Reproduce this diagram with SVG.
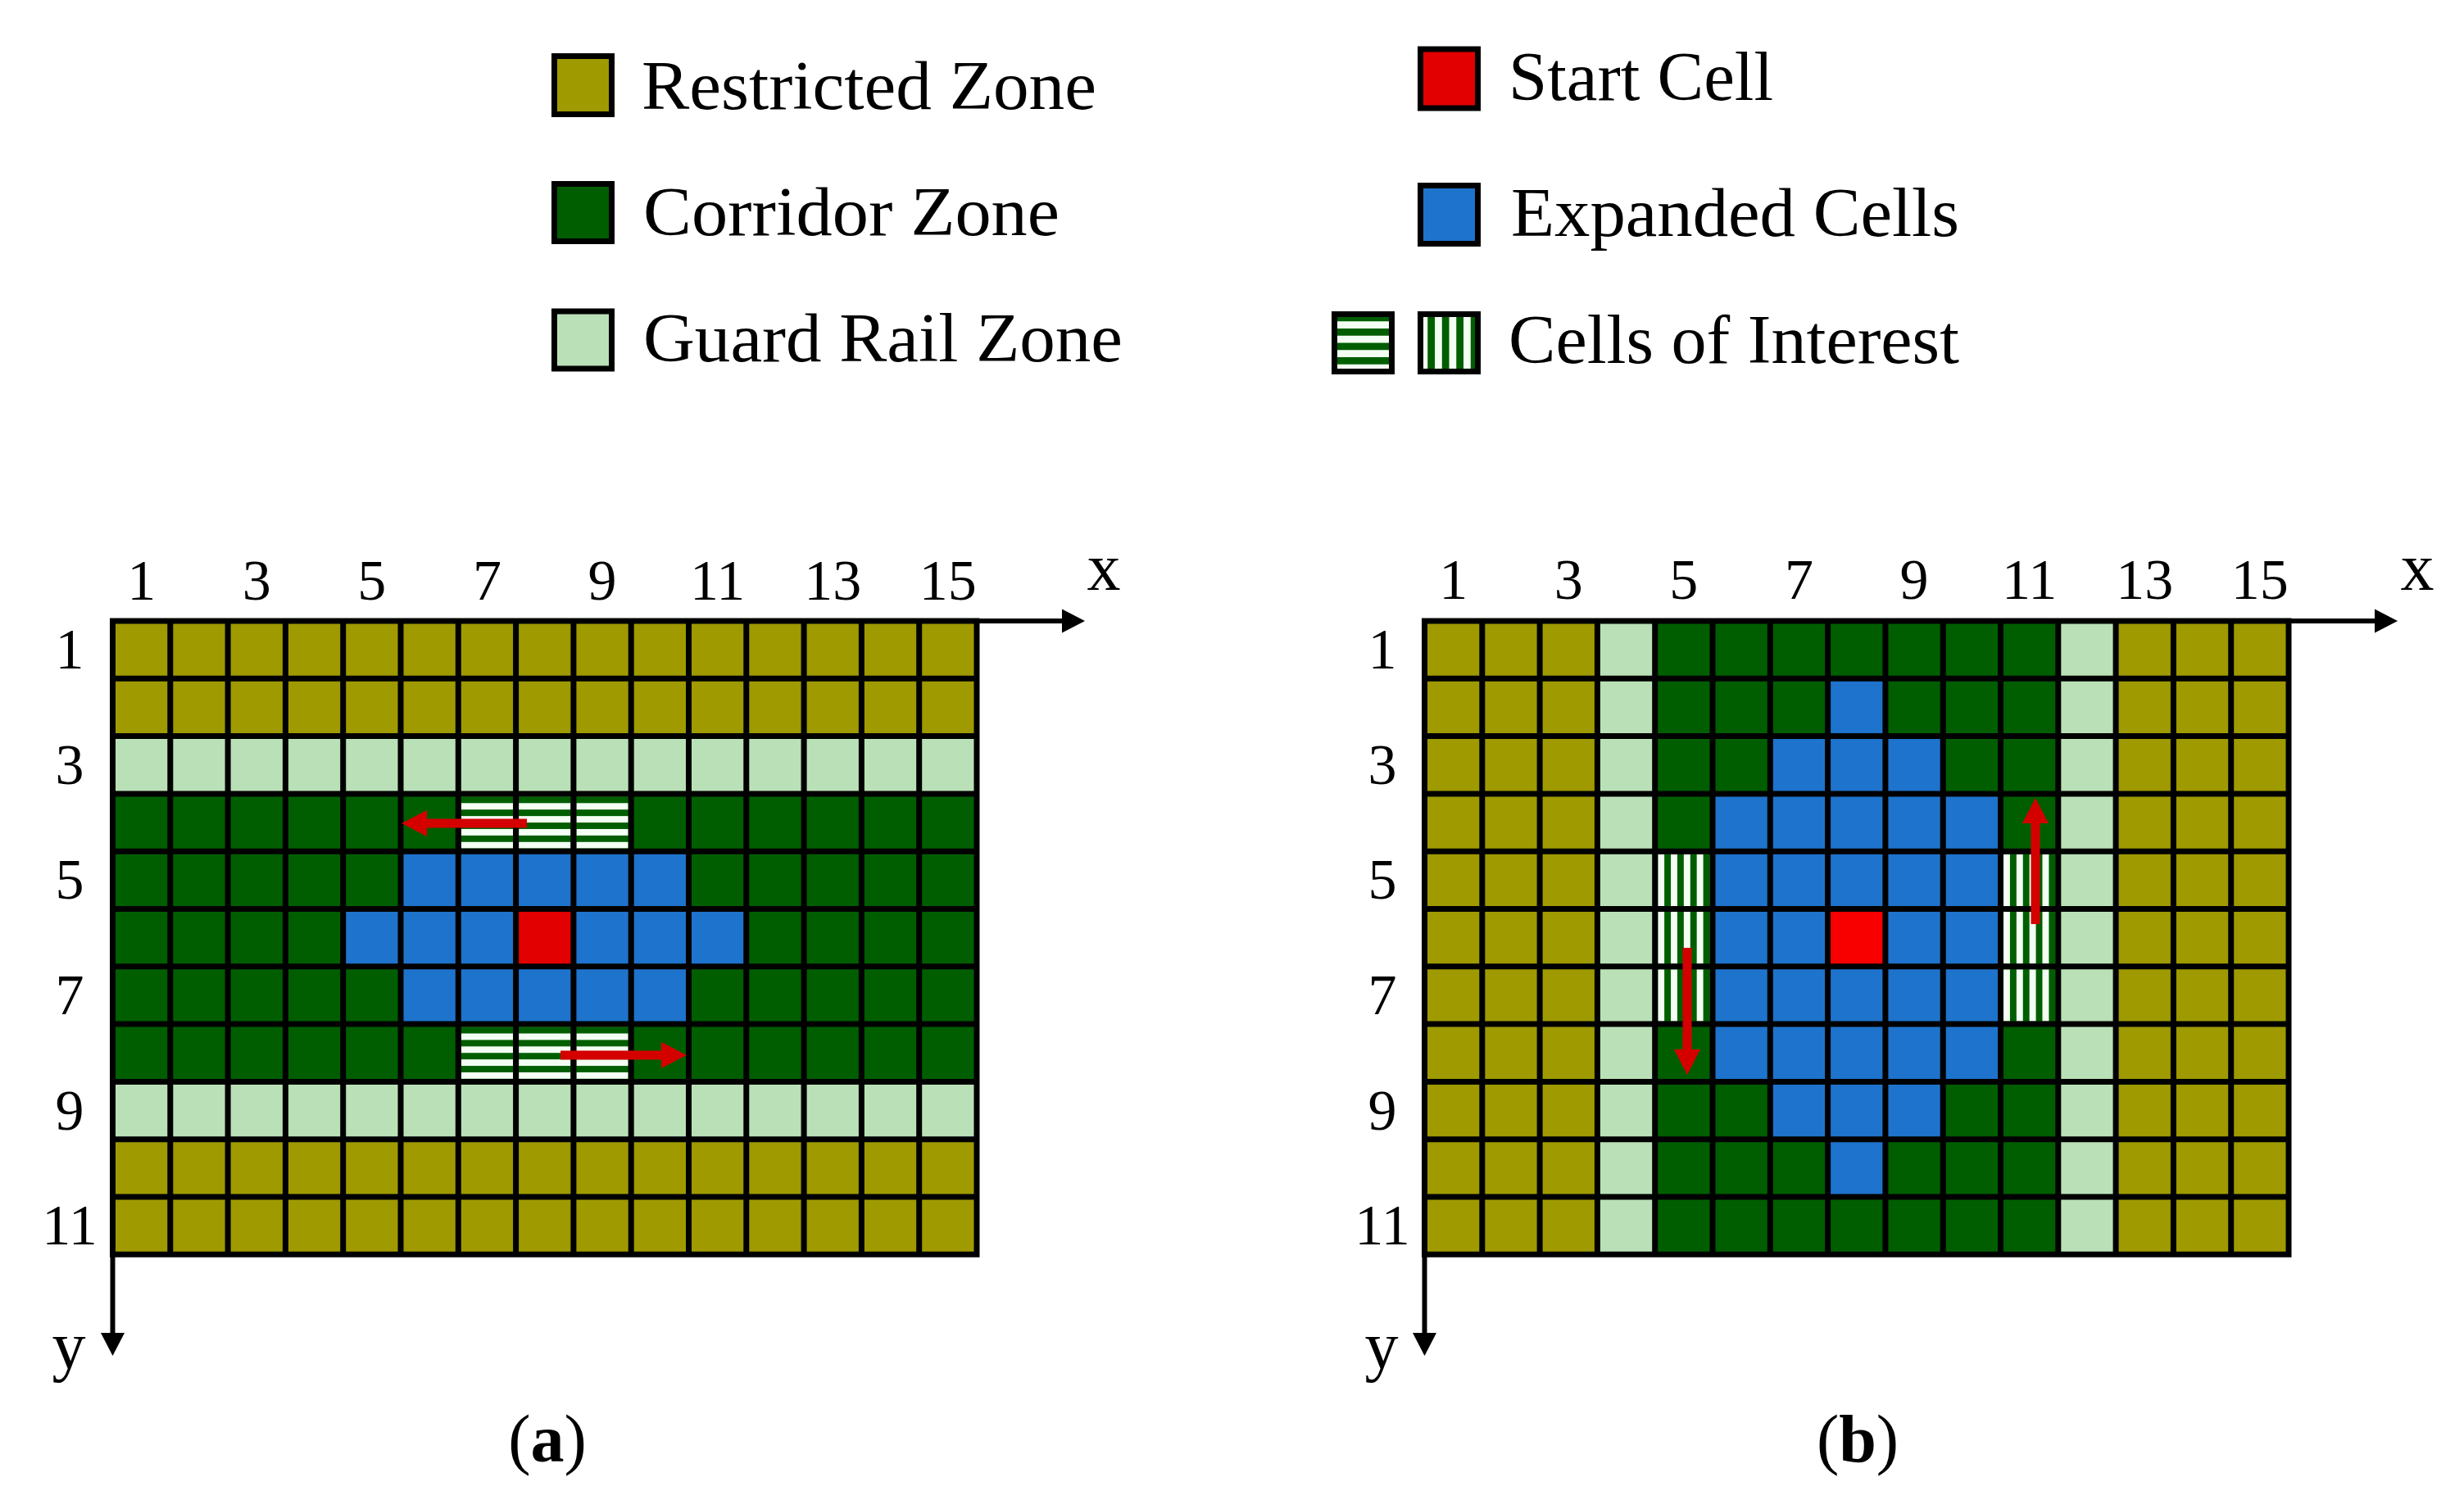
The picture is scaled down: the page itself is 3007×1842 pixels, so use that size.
<svg xmlns="http://www.w3.org/2000/svg" width="3007" height="1842" viewBox="0 0 3007 1842">
<style>
  text { font-family: "Liberation Serif", "Times New Roman", serif; fill: #000; }
  .num { font-size: 70px; text-anchor: middle; }
  .ax { font-size: 82px; text-anchor: middle; }
  .leg { font-size: 84px; }
  .cap { font-size: 82px; text-anchor: middle; }
  .olive { fill: #9e9a00; }
  .dark { fill: #005e00; }
  .light { fill: #bae0b7; }
  .blue { fill: #1e73cc; }
  .red { fill: #e20000; }
  .hs { fill: url(#hstripe); }
  .vs { fill: url(#vstripe); }
  .box { stroke: #000; stroke-width: 7; }
  .gridlines { fill: none; stroke: #000; stroke-width: 7; }
  .axis { fill: none; stroke: #000; stroke-width: 6; marker-end: url(#axhead); }
  .move { fill: none; stroke: #d40000; stroke-width: 11; marker-end: url(#redhead); }
</style>
<defs>
  <pattern id="hstripe" patternUnits="objectBoundingBox" patternContentUnits="objectBoundingBox" width="1" height="0.25">
    <rect x="0" y="0" width="1" height="0.125" fill="#005e00"/>
    <rect x="0" y="0.125" width="1" height="0.125" fill="#f4fff4"/>
  </pattern>
  <pattern id="vstripe" patternUnits="objectBoundingBox" patternContentUnits="objectBoundingBox" width="0.25" height="1">
    <rect x="0" y="0" width="0.125" height="1" fill="#f4fff4"/>
    <rect x="0.125" y="0" width="0.125" height="1" fill="#005e00"/>
  </pattern>
  <marker id="axhead" markerUnits="userSpaceOnUse" viewBox="0 -15 28 30" refX="0" refY="0" markerWidth="28" markerHeight="30" orient="auto">
    <path d="M0,-14.5 L28,0 L0,14.5 Z" fill="#000"/>
  </marker>
  <marker id="redhead" markerUnits="userSpaceOnUse" viewBox="0 -16 31 32" refX="0" refY="0" markerWidth="31" markerHeight="32" orient="auto">
    <path d="M0,-16 L31,0 L0,16 Z" fill="#d40000"/>
  </marker>
  <path id="lines" class="gridlines" d="M0,-3.5V776.8 M70.3,-3.5V776.8 M140.6,-3.5V776.8 M210.9,-3.5V776.8 M281.2,-3.5V776.8 M351.5,-3.5V776.8 M421.8,-3.5V776.8 M492.1,-3.5V776.8 M562.4,-3.5V776.8 M632.7,-3.5V776.8 M703,-3.5V776.8 M773.3,-3.5V776.8 M843.6,-3.5V776.8 M913.9,-3.5V776.8 M984.2,-3.5V776.8 M1054.5,-3.5V776.8 M-3.5,0H1058 M-3.5,70.3H1058 M-3.5,140.6H1058 M-3.5,210.9H1058 M-3.5,281.2H1058 M-3.5,351.5H1058 M-3.5,421.8H1058 M-3.5,492.1H1058 M-3.5,562.4H1058 M-3.5,632.7H1058 M-3.5,703H1058 M-3.5,773.3H1058"/>
</defs>
<rect width="3007" height="1842" fill="#fff"/>

<!-- Legend -->
<g id="legend-restricted">
  <rect class="box olive" x="676.5" y="68.5" width="70" height="71"/>
  <text class="leg" x="783" y="133" textLength="555" lengthAdjust="spacingAndGlyphs">Restricted Zone</text>
</g>
<g id="legend-corridor">
  <rect class="box dark" x="676.5" y="224.5" width="70" height="70"/>
  <text class="leg" x="785" y="287" textLength="508" lengthAdjust="spacingAndGlyphs">Corridor Zone</text>
</g>
<g id="legend-guard">
  <rect class="box light" x="676.5" y="380" width="70" height="70"/>
  <text class="leg" x="785" y="441" textLength="585" lengthAdjust="spacingAndGlyphs">Guard Rail Zone</text>
</g>
<g id="legend-start">
  <rect class="box red" x="1733.5" y="60" width="70" height="72"/>
  <text class="leg" x="1841" y="122" textLength="323" lengthAdjust="spacingAndGlyphs">Start Cell</text>
</g>
<g id="legend-expanded">
  <rect class="box blue" x="1733.5" y="226.5" width="70" height="71"/>
  <text class="leg" x="1844" y="288" textLength="547" lengthAdjust="spacingAndGlyphs">Expanded Cells</text>
</g>
<g id="legend-interest">
  <rect class="box hs" x="1628.5" y="383.5" width="70" height="70"/>
  <rect class="box vs" x="1733.5" y="383.5" width="70" height="70"/>
  <text class="leg" x="1841" y="443" textLength="550" lengthAdjust="spacingAndGlyphs">Cells of Interest</text>
</g>

<!-- Grid (a) -->
<g id="grid-a" transform="translate(137.5,758)">
  <rect class="olive" x="0" y="0" width="1054.5" height="140.6"/>
  <rect class="light" x="0" y="140.6" width="1054.5" height="70.3"/>
  <rect class="dark" x="0" y="210.9" width="1054.5" height="351.5"/>
  <rect class="light" x="0" y="562.4" width="1054.5" height="70.3"/>
  <rect class="olive" x="0" y="632.7" width="1054.5" height="140.6"/>
  <rect class="blue" x="351.5" y="281.2" width="351.5" height="70.3"/>
  <rect class="blue" x="281.2" y="351.5" width="492.1" height="70.3"/>
  <rect class="blue" x="351.5" y="421.8" width="351.5" height="70.3"/>
  <rect class="red" x="492.1" y="351.5" width="70.3" height="70.3"/>
  <rect class="hs" x="425.3" y="214.4" width="63.3" height="63.3"/>
  <rect class="hs" x="495.6" y="214.4" width="63.3" height="63.3"/>
  <rect class="hs" x="565.9" y="214.4" width="63.3" height="63.3"/>
  <rect class="hs" x="425.3" y="495.6" width="63.3" height="63.3"/>
  <rect class="hs" x="495.6" y="495.6" width="63.3" height="63.3"/>
  <rect class="hs" x="565.9" y="495.6" width="63.3" height="63.3"/>
  <use href="#lines"/>
</g>
<g id="labels-a">
  <text class="num" x="172.65" y="732">1</text>
  <text class="num" x="313.25" y="732">3</text>
  <text class="num" x="453.85" y="732">5</text>
  <text class="num" x="594.45" y="732">7</text>
  <text class="num" x="735.05" y="732">9</text>
  <text class="num" x="875.65" y="732">11</text>
  <text class="num" x="1016.25" y="732">13</text>
  <text class="num" x="1156.85" y="732">15</text>
  <text class="num" x="85" y="816">1</text>
  <text class="num" x="85" y="957">3</text>
  <text class="num" x="85" y="1097">5</text>
  <text class="num" x="85" y="1238">7</text>
  <text class="num" x="85" y="1379">9</text>
  <text class="num" x="85" y="1519">11</text>
  <text class="ax" x="1347" y="720">x</text>
  <text class="ax" x="84" y="1670">y</text>
  <text class="cap" x="668" y="1784">(<tspan font-weight="bold">a</tspan>)</text>
</g>

<!-- Grid (b) -->
<g id="grid-b" transform="translate(1738.5,758)">
  <rect class="olive" x="0" y="0" width="210.9" height="773.3"/>
  <rect class="light" x="210.9" y="0" width="70.3" height="773.3"/>
  <rect class="dark" x="281.2" y="0" width="492.1" height="773.3"/>
  <rect class="light" x="773.3" y="0" width="70.3" height="773.3"/>
  <rect class="olive" x="843.6" y="0" width="210.9" height="773.3"/>
  <rect class="blue" x="492.1" y="70.3" width="70.3" height="70.3"/>
  <rect class="blue" x="421.8" y="140.6" width="210.9" height="70.3"/>
  <rect class="blue" x="351.5" y="210.9" width="351.5" height="351.5"/>
  <rect class="blue" x="421.8" y="562.4" width="210.9" height="70.3"/>
  <rect class="blue" x="492.1" y="632.7" width="70.3" height="70.3"/>
  <rect fill="#f80000" x="492.1" y="351.5" width="70.3" height="70.3"/>
  <rect class="vs" x="284.7" y="284.7" width="63.3" height="63.3"/>
  <rect class="vs" x="284.7" y="355" width="63.3" height="63.3"/>
  <rect class="vs" x="284.7" y="425.3" width="63.3" height="63.3"/>
  <rect class="vs" x="706.5" y="284.7" width="63.3" height="63.3"/>
  <rect class="vs" x="706.5" y="355" width="63.3" height="63.3"/>
  <rect class="vs" x="706.5" y="425.3" width="63.3" height="63.3"/>
  <use href="#lines"/>
</g>
<g id="labels-b">
  <text class="num" x="1773.65" y="731">1</text>
  <text class="num" x="1914.25" y="731">3</text>
  <text class="num" x="2054.85" y="731">5</text>
  <text class="num" x="2195.45" y="731">7</text>
  <text class="num" x="2336.05" y="731">9</text>
  <text class="num" x="2476.65" y="731">11</text>
  <text class="num" x="2617.25" y="731">13</text>
  <text class="num" x="2757.85" y="731">15</text>
  <text class="num" x="1687" y="816">1</text>
  <text class="num" x="1687" y="957">3</text>
  <text class="num" x="1687" y="1097">5</text>
  <text class="num" x="1687" y="1238">7</text>
  <text class="num" x="1687" y="1379">9</text>
  <text class="num" x="1687" y="1519">11</text>
  <text class="ax" x="2950" y="720">x</text>
  <text class="ax" x="1686" y="1670">y</text>
  <text class="cap" x="2267" y="1784">(<tspan font-weight="bold">b</tspan>)</text>
</g>

<!-- Connectors: axes and movement arrows -->
<g id="connectors">
  <path class="axis" d="M1192,758 H1296"/>
  <path class="axis" d="M137.5,1531 V1627"/>
  <path class="axis" d="M2793,758 H2898"/>
  <path class="axis" d="M1738.5,1531 V1627"/>
  <path class="move" d="M643,1005 H521"/>
  <path class="move" d="M684,1288 H807"/>
  <path class="move" d="M2484,1128 V1005"/>
  <path class="move" d="M2059,1157 V1281"/>
</g>
</svg>
